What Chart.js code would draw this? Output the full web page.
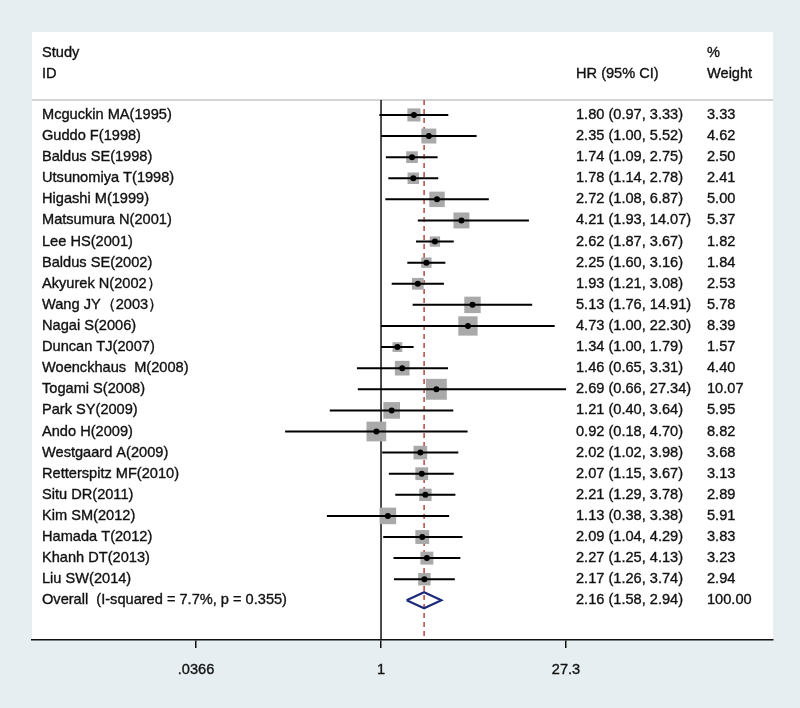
<!DOCTYPE html>
<html>
<head>
<meta charset="utf-8">
<script src="https://cdn.jsdelivr.net/npm/chart.js@4.4.1/dist/chart.umd.min.js"></script>
<style>
  html, body { margin: 0; padding: 0; background: #e6eef1; }
</style>
</head>
<body>
<canvas id="forest" width="800" height="708"></canvas>
<script>
// données
const studies = [
  'Mcguckin MA(1995)', 'Guddo F(1998)', 'Baldus SE(1998)', 'Utsunomiya T(1998)',
  'Higashi M(1999)', 'Matsumura N(2001)', 'Lee HS(2001)', 'Baldus SE(2002)',
  'Akyurek N(2002）', 'Wang JY（2003）', 'Nagai S(2006)', 'Duncan TJ(2007)',
  'Woenckhaus  M(2008)', 'Togami S(2008)', 'Park SY(2009)', 'Ando H(2009)',
  'Westgaard A(2009)', 'Retterspitz MF(2010)', 'Situ DR(2011)', 'Kim SM(2012)',
  'Hamada T(2012)', 'Khanh DT(2013)', 'Liu SW(2014)'
];
const hr    = [1.80, 2.35, 1.74, 1.78, 2.72, 4.21, 2.62, 2.25, 1.93, 5.13, 4.73, 1.34, 1.46, 2.69, 1.21, 0.92, 2.02, 2.07, 2.21, 1.13, 2.09, 2.27, 2.17];
const lower = [0.97, 1.00, 1.09, 1.14, 1.08, 1.93, 1.87, 1.60, 1.21, 1.76, 1.00, 1.00, 0.65, 0.66, 0.40, 0.18, 1.02, 1.15, 1.29, 0.38, 1.04, 1.25, 1.26];
const upper = [3.33, 5.52, 2.75, 2.78, 6.87, 14.07, 3.67, 3.16, 3.08, 14.91, 22.30, 1.79, 3.31, 27.34, 3.64, 4.70, 3.98, 3.67, 3.78, 3.38, 4.29, 4.13, 3.74];
const weight = [3.33, 4.62, 2.50, 2.41, 5.00, 5.37, 1.82, 1.84, 2.53, 5.78, 8.39, 1.57, 4.40, 10.07, 5.95, 8.82, 3.68, 3.13, 2.89, 5.91, 3.83, 3.23, 2.94];

const overallLabel = 'Overall  (I-squared = 7.7%, p = 0.355)';
const overallHR = [2.16, 1.58, 2.94];   // estimation, borne inf, borne sup
const overallWeight = '100.00';

const xTicks = [0.0366, 1, 27.3];
const xTickLabels = ['.0366', '1', '27.3'];

const fmt = v => v.toFixed(2);
const rowOverall = studies.length;

// ⚡ segments des IC (séparés par un trou)
const ciData = [];
studies.forEach((s, i) => {
  ciData.push({ x: lower[i], y: i }, { x: upper[i], y: i }, { x: hr[i], y: null });
});
const ptData = studies.map((s, i) => ({ x: hr[i], y: i }));
const squareSize = weight.map(w => (2.5 + 5.8 * Math.sqrt(w)) / Math.SQRT2);

const diamond = [
  { x: overallHR[1], y: rowOverall },
  { x: overallHR[0], y: rowOverall - 0.38 },
  { x: overallHR[2], y: rowOverall },
  { x: overallHR[0], y: rowOverall + 0.38 },
  { x: overallHR[1], y: rowOverall }
];

const TOP = -0.71, BOTTOM = 24.88;
const FAMILY = '"Liberation Sans", Arial, sans-serif';
const FONT = '14.6px ' + FAMILY;
const INK = '#111111';

const panelPlugin = {
  id: 'panel',
  beforeDraw(chart) {
    const { ctx, chartArea: a, scales: { y } } = chart;
    ctx.save();
    ctx.fillStyle = '#e6eef1';
    ctx.fillRect(0, 0, chart.width, chart.height);
    ctx.fillStyle = '#ffffff';
    ctx.fillRect(a.left, a.top, a.right - a.left, a.bottom - a.top);
    ctx.strokeStyle = '#c4c4c4';
    ctx.lineWidth = 1.5;
    ctx.beginPath();
    ctx.moveTo(a.left, y.getPixelForValue(TOP));
    ctx.lineTo(a.right, y.getPixelForValue(TOP));
    ctx.stroke();
    ctx.restore();
  },
  afterDraw(chart) {
    const { ctx, scales: { y } } = chart;
    ctx.save();
    ctx.font = FONT;
    ctx.fillStyle = INK;
    ctx.strokeStyle = INK;
    ctx.lineWidth = 0.35;
    ctx.textBaseline = 'middle';
    ctx.textAlign = 'left';
    const txt = (t, x, py) => { ctx.fillText(t, x, py); ctx.strokeText(t, x, py); };
    const colName = 42, colHR = 576, colW = 707;
    txt('Study', colName, y.getPixelForValue(-3) + 1);
    txt('ID', colName, y.getPixelForValue(-2) + 1);
    txt('HR (95% CI)', colHR, y.getPixelForValue(-2) + 1);
    txt('%', colW, y.getPixelForValue(-3) + 1);
    txt('Weight', colW, y.getPixelForValue(-2) + 1);
    studies.forEach((s, i) => {
      const py = y.getPixelForValue(i);
      txt(s, colName, py);
      txt(fmt(hr[i]) + ' (' + fmt(lower[i]) + ', ' + fmt(upper[i]) + ')', colHR, py);
      txt(fmt(weight[i]), colW, py);
    });
    const po = y.getPixelForValue(rowOverall);
    txt(overallLabel, colName, po);
    txt(fmt(overallHR[0]) + ' (' + fmt(overallHR[1]) + ', ' + fmt(overallHR[2]) + ')', colHR, po);
    txt(overallWeight, colW, po);
    ctx.restore();
  }
};

const ctx = document.getElementById('forest').getContext('2d');
new Chart(ctx, {
  type: 'scatter',
  data: {
    datasets: [
      { type: 'scatter', data: ptData, pointStyle: 'circle', pointRadius: 3,
        backgroundColor: '#000', borderWidth: 0, order: 0 },
      { type: 'line', data: ciData, borderColor: '#000', borderWidth: 2,
        pointRadius: 0, spanGaps: false, fill: false, order: 1 },
      { type: 'scatter', data: ptData, pointStyle: 'rect', pointRadius: squareSize,
        backgroundColor: '#a9a9a9', borderWidth: 0, order: 2 },
      { type: 'line', data: diamond, borderColor: '#1b2a7a', borderWidth: 2.2,
        pointRadius: 0, fill: false, order: 3 },
      { type: 'line', data: [{ x: overallHR[0], y: TOP }, { x: overallHR[0], y: BOTTOM }],
        borderColor: '#b5473f', borderWidth: 1.5, borderDash: [5, 4],
        pointRadius: 0, order: 4 },
      { type: 'line', data: [{ x: 1, y: TOP }, { x: 1, y: BOTTOM }],
        borderColor: '#111', borderWidth: 1.5, pointRadius: 0, order: 5 }
    ]
  },
  options: {
    responsive: false,
    animation: false,
    layout: { padding: { left: 32, top: 32, right: 27, bottom: 0 } },
    plugins: { legend: { display: false }, tooltip: { enabled: false } },
    scales: {
      x: {
        type: 'logarithmic',
        bounds: 'data',
        min: 0.00195,
        max: 1105,
        afterBuildTicks: s => { s.ticks = xTicks.map(v => ({ value: v })); },
        afterFit: s => { s.height = 68; },
        ticks: {
          autoSkip: false,
          maxRotation: 0,
          padding: 13,
          color: INK,
          textStrokeColor: INK,
          textStrokeWidth: 0.35,
          font: { family: FAMILY, size: 14.6 },
          callback: (v) => xTickLabels[xTicks.indexOf(v)] ?? ''
        },
        grid: { display: true, drawOnChartArea: false, drawTicks: true,
                tickLength: 8, color: '#111', lineWidth: 1.5 },
        border: { display: true, color: '#111', width: 1.5 }
      },
      y: {
        type: 'linear',
        reverse: true,
        bounds: 'data',
        min: -3.93,
        max: 24.88,
        display: false
      }
    }
  },
  plugins: [panelPlugin]
});
</script>
</body>
</html>
